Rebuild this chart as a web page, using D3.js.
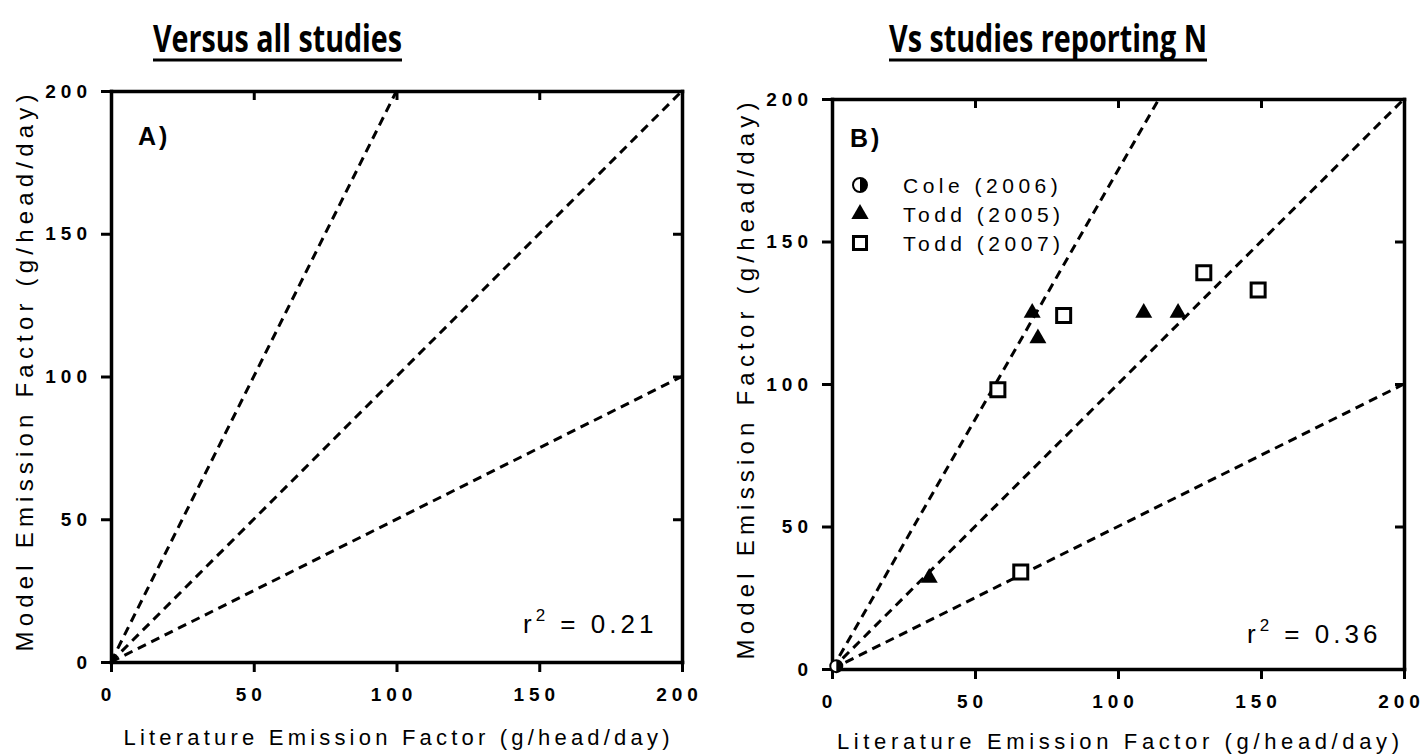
<!DOCTYPE html>
<html>
<head>
<meta charset="utf-8">
<script src="https://cdn.jsdelivr.net/npm/d3@7"></script>
<style>
    html, body { margin: 0; padding: 0; background: #fff; }
    svg { display: block; font-family: Arial, 'Liberation Sans', sans-serif; }
</style>
</head>
<body>
<svg id="chart" width="1426" height="754"></svg>
<script>

// Chart values.
const tickValues = [0, 50, 100, 150, 200];
const panelTitles = ['Versus all studies', 'Vs studies reporting N'];
const panelLabels = ['A)', 'B)'];
const rSquared = ['0.21', '0.36'];
const lineRatiosA = [2, 1, 0.5];
const lineRatiosB = [1.75, 1, 0.5];
const legendLabels = ['Cole (2006)', 'Todd (2005)', 'Todd (2007)'];
const cole2006 = [[1.5, 1]];
const todd2005 = [[34, 32], [70, 125], [72, 116], [109, 125], [121, 125]];
const todd2007 = [[58, 98], [66, 34], [81, 124], [130, 139], [149, 133]];

/**
 * @constant panels
 * @type {Array}
 */
const panels = [
    { left: 111, right: 682, top: 91, bottom: 662, ratios: lineRatiosA, title: { x: 153, y: 52, width: 249 }, label: { x: 138, y: 145 }, r2: { x: 523, y: 633 }, xTitle: { y: 745, width: 546 }, yTitle: { x: 33, y: 373 }, points: false },
    { left: 832, right: 1404, top: 99, bottom: 669, ratios: lineRatiosB, title: { x: 889, y: 52, width: 318 }, label: { x: 850, y: 147 }, r2: { x: 1247, y: 643 }, xTitle: { y: 749, width: 562 }, yTitle: { x: 754, y: 381 }, points: true }
];

const svg = d3.select('#chart');

/**
 * @method halfCircle
 * @param {Object} g
 * @param {Number} cx
 * @param {Number} cy
 * @param {Number} r
 * @return {void}
 */
const halfCircle = (g, cx, cy, r) => {

    g.append('circle').attr('cx', cx).attr('cy', cy).attr('r', r)
        .attr('fill', '#fff').attr('stroke', '#000').attr('stroke-width', 2);

    const arc = d3.arc().innerRadius(0).outerRadius(r).startAngle(0).endAngle(Math.PI);
    g.append('path').attr('transform', `translate(${cx},${cy})`).attr('d', arc()).attr('fill', '#000');

};

/**
 * @method drawPanel
 * @param {Object} p
 * @param {Number} i
 * @return {void}
 */
const drawPanel = (p, i) => {

    const x = d3.scaleLinear().domain([0, 200]).range([p.left, p.right]);
    const y = d3.scaleLinear().domain([0, 200]).range([p.bottom, p.top]);
    const g = svg.append('g');

    // Title, bold and underlined.
    g.append('text').attr('x', p.title.x).attr('y', p.title.y)
        .attr('textLength', p.title.width).attr('lengthAdjust', 'spacingAndGlyphs')
        .style('font-family', "'Liberation Sans Narrow', 'Open Sans', sans-serif")
        .style('font-weight', 'bold').style('font-size', '37px').text(panelTitles[i]);
    g.append('line').attr('x1', p.title.x).attr('x2', p.title.x + p.title.width)
        .attr('y1', p.title.y + 8).attr('y2', p.title.y + 8)
        .attr('stroke', '#000').attr('stroke-width', 3);

    // Dashed reference lines through the origin.
    p.ratios.forEach(ratio => {
        const xEnd = Math.min(200, 200 / ratio);
        g.append('line')
            .attr('x1', x(0)).attr('y1', y(0)).attr('x2', x(xEnd)).attr('y2', y(xEnd * ratio))
            .attr('stroke', '#000').attr('stroke-width', 3).attr('stroke-dasharray', '9,6');
    });

    // Four axes: outer ticks left/bottom, inner ticks top/right.
    const axes = [
        { axis: d3.axisLeft(y).tickSize(10).tickPadding(9), at: `translate(${p.left},0)`, labels: true, dx: 0 },
        { axis: d3.axisBottom(x).tickSize(10).tickPadding(16), at: `translate(0,${p.bottom})`, labels: true, dx: -3 },
        { axis: d3.axisTop(x).tickSize(-9), at: `translate(0,${p.top})`, labels: false, dx: 0 },
        { axis: d3.axisRight(y).tickSize(-9), at: `translate(${p.right},0)`, labels: false, dx: 0 }
    ];

    axes.forEach(a => {

        const ax = g.append('g').attr('transform', a.at)
            .call(a.axis.tickValues(tickValues).tickSizeOuter(0));

        ax.select('.domain').attr('stroke-width', 3.5).attr('stroke-linecap', 'square');
        ax.selectAll('.tick line').attr('stroke-width', 3);
        ax.selectAll('.tick text')
            .style('display', a.labels ? null : 'none')
            .attr('dx', a.dx)
            .style('font-family', "Arial, 'Liberation Sans', sans-serif")
            .style('font-size', '19px').style('font-weight', 'bold')
            .style('letter-spacing', '5px').attr('fill', '#000');

    });

    // Axis titles.
    g.append('text').attr('x', x(100)).attr('y', p.xTitle.y).attr('text-anchor', 'middle')
        .attr('textLength', p.xTitle.width).attr('lengthAdjust', 'spacing')
        .style('font-size', '22px').text('Literature Emission Factor (g/head/day)');

    g.append('text').attr('transform', `translate(${p.yTitle.x},${p.yTitle.y}) rotate(-90)`)
        .attr('text-anchor', 'middle').attr('textLength', 557).attr('lengthAdjust', 'spacing')
        .style('font-size', '24px').text('Model Emission Factor (g/head/day)');

    // Panel label.
    g.append('text').attr('x', p.label.x).attr('y', p.label.y)
        .style('font-size', '25px').style('font-weight', 'bold').style('letter-spacing', '3px')
        .text(panelLabels[i]);

    // r squared.
    const r2 = g.append('text').attr('x', p.r2.x).attr('y', p.r2.y)
        .style('font-size', '26px').style('letter-spacing', '4px');
    r2.append('tspan').text('r');
    r2.append('tspan').attr('dy', -12).style('font-size', '17px').text('2');
    r2.append('tspan').attr('dy', 12).text(` = ${rSquared[i]}`);

    if (!p.points) return;

    // Data points.
    cole2006.forEach(d => halfCircle(g, x(d[0]), y(d[1]), 6));

    g.selectAll('.tri').data(todd2005).join('path').attr('class', 'tri')
        .attr('transform', d => `translate(${x(d[0])},${y(d[1])})`)
        .attr('d', d3.symbol(d3.symbolTriangle, 125)).attr('fill', '#000');

    g.selectAll('.sq').data(todd2007).join('path').attr('class', 'sq')
        .attr('transform', d => `translate(${x(d[0])},${y(d[1])})`)
        .attr('d', d3.symbol(d3.symbolSquare, 196))
        .attr('fill', '#fff').attr('stroke', '#000').attr('stroke-width', 3);

    // Legend.
    const legendY = [185, 214, 243];
    legendLabels.forEach((label, k) => {

        const cy = legendY[k];

        if (k === 0) halfCircle(g, 860, cy, 7);
        if (k === 1) g.append('path').attr('transform', `translate(860,${cy})`)
            .attr('d', d3.symbol(d3.symbolTriangle, 130)).attr('fill', '#000');
        if (k === 2) g.append('path').attr('transform', `translate(860,${cy})`)
            .attr('d', d3.symbol(d3.symbolSquare, 170))
            .attr('fill', '#fff').attr('stroke', '#000').attr('stroke-width', 3);

        g.append('text').attr('x', 903).attr('y', cy + 8)
            .style('font-size', '21px').style('letter-spacing', '4.5px').text(label);

    });

};

panels.forEach(drawPanel);

</script>
</body>
</html>
